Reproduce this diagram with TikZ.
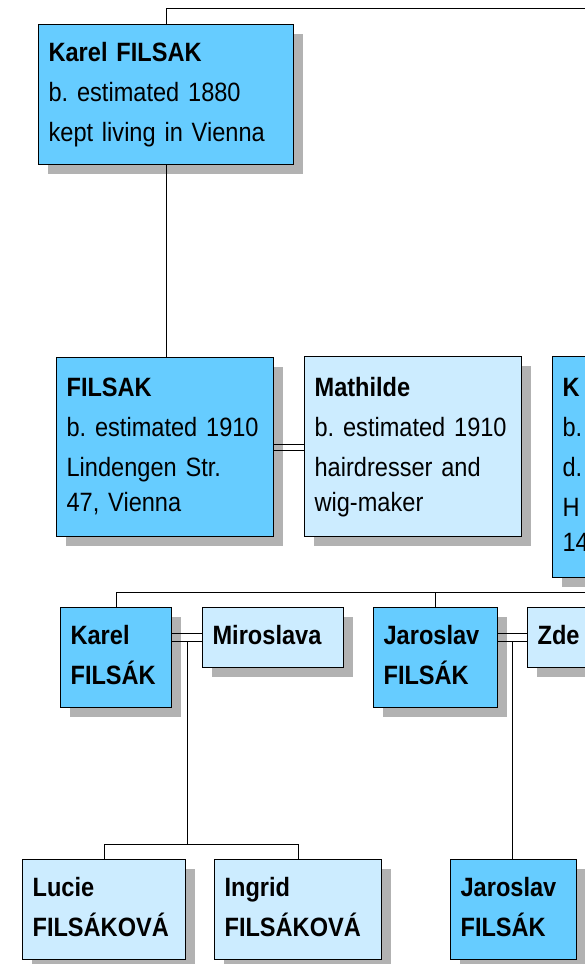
\documentclass[tikz,border=0pt]{standalone}
\usepackage{fontspec}
\setmainfont[FakeStretch=0.89]{Liberation Sans}
\frenchspacing
\usetikzlibrary{shadows, calc}

\definecolor{dkblue}{HTML}{66CCFF}
\definecolor{ltblue}{HTML}{CCECFF}
\definecolor{shadowgray}{HTML}{B2B2B2}

\begin{document}
\begin{tikzpicture}[x=1pt, y=1pt,
    box/.style={draw, line width=1.2pt, anchor=north west, inner xsep=10pt, inner ysep=0pt,
      align=left, font=\fontsize{26.5}{35}\selectfont,
      execute at begin node=\strut, execute at end node=\strut,
      general shadow={shadow xshift=9pt, shadow yshift=-9pt, fill=shadowgray}},
    male/.style={box, fill=dkblue},
    female/.style={box, fill=ltblue},
    link/.style={line width=0.8pt}]
    \useasboundingbox (0,0) rectangle (585,-964);

    % Generation 1
    \node[male, text width=235pt, minimum height=140pt] (karel) at (38,-24)
        {\textbf{Karel FILSAK}\\[5pt]b. estimated 1880\\[5pt]kept living in Vienna};

    % Generation 2
    \node[male, text width=197pt, minimum height=179pt] (filsak) at (56,-357)
        {\textbf{FILSAK}\\[5pt]b. estimated 1910\\[5pt]Lindengen Str.\\47, Vienna};
    \node[female, text width=197pt, minimum height=180pt] (mathilde) at (304,-356)
        {\textbf{Mathilde}\\[5pt]b. estimated 1910\\[5pt]hairdresser and\\wig-maker};
    \node[male, text width=197pt, minimum height=221pt] (kbox) at (552,-356)
        {\textbf{K}\\[5pt]b.\\[5pt]d.\\[5pt]H\\14};

    % Generation 3
    \node[male, text width=91pt, minimum height=100pt] (karelf) at (60,-607)
        {\textbf{Karel}\\[5pt]\textbf{FILSÁK}};
    \node[female, text width=121pt, minimum height=60pt] (miroslava) at (202,-607)
        {\textbf{Miroslava}};
    \node[male, text width=104pt, minimum height=100pt] (jaroslav) at (373,-607)
        {\textbf{Jaroslav}\\[5pt]\textbf{FILSÁK}};
    \node[female, text width=121pt, minimum height=60pt] (zde) at (527,-607)
        {\textbf{Zde}};

    % Generation 4
    \node[female, text width=143pt, minimum height=100pt] (lucie) at (22,-859)
        {\textbf{Lucie}\\[5pt]\textbf{FILSÁKOVÁ}};
    \node[female, text width=147pt, minimum height=100pt] (ingrid) at (214,-859)
        {\textbf{Ingrid}\\[5pt]\textbf{FILSÁKOVÁ}};
    \node[male, text width=106pt, minimum height=100pt] (jaroslavj) at (450,-859)
        {\textbf{Jaroslav}\\[5pt]\textbf{FILSÁK}};

    % Parents of Karel
    \coordinate (topR) at (590,-8);
    \draw[link] (karel.north) |- (topR);
    \draw[link] (karel.south) -- (karel.south |- filsak.north);

    % FILSAK = Mathilde
    \coordinate (fm) at (filsak.east -| mathilde.west);
    \draw[link] ([yshift=3pt]filsak.east) -- ([yshift=3pt]fm);
    \draw[link] ([yshift=-3pt]filsak.east) -- ([yshift=-3pt]fm);

    % Sibling bar
    \coordinate (barR) at (590,-592);
    \draw[link] (karelf.north) |- (barR);
    \draw[link] (jaroslav.north) -- (jaroslav.north |- barR);

    % Karel = Miroslava
    \coordinate (km) at (karelf.east |- miroslava.west);
    \draw[link] ([yshift=4pt]km) -- ([yshift=4pt]miroslava.west);
    \draw[link] ([yshift=-4pt]km) -- ([yshift=-4pt]miroslava.west);
    \coordinate (kc) at ($(km)!0.5!(miroslava.west)$);
    \coordinate (kids) at (0,-844);
    \draw[link] ([yshift=-4pt]kc) -- (kc |- kids);
    \draw[link] (lucie.north) |- (kids -| ingrid.north) -- (ingrid.north);

    % Jaroslav = Zde
    \coordinate (jz) at (jaroslav.east |- zde.west);
    \draw[link] ([yshift=4pt]jz) -- ([yshift=4pt]zde.west);
    \draw[link] ([yshift=-4pt]jz) -- ([yshift=-4pt]zde.west);
    \coordinate (jc) at ($(jz)!0.5!(zde.west)$);
    \draw[link] ([yshift=-4pt]jc) -- (jc |- jaroslavj.north);
\end{tikzpicture}
\end{document}
